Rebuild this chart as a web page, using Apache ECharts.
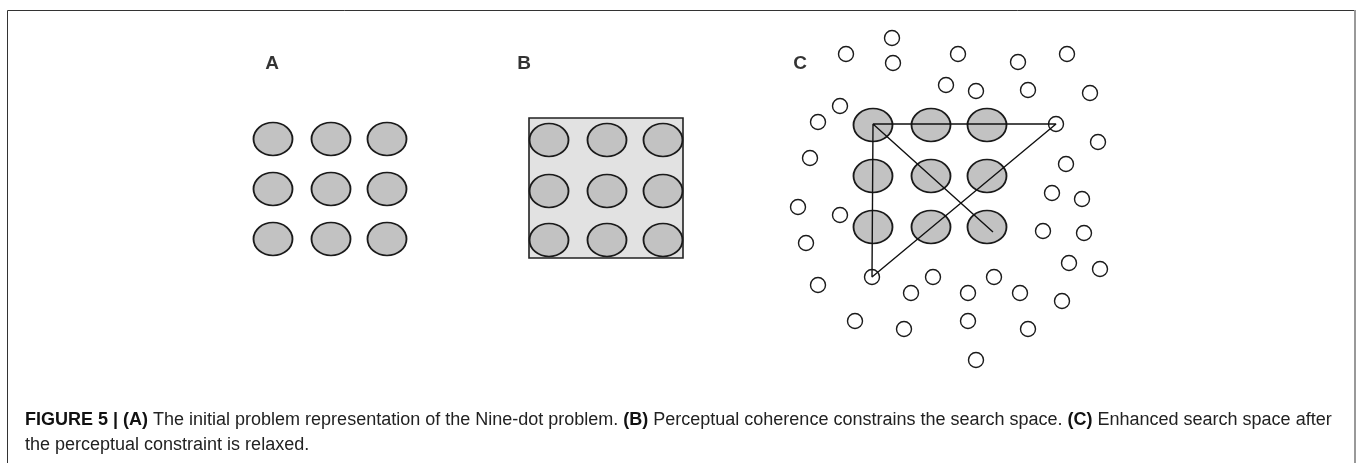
<!DOCTYPE html>
<html>
<head>
<meta charset="utf-8">
<script src="https://cdn.jsdelivr.net/npm/echarts@6/dist/echarts.min.js"></script>
<style>
  html, body { margin: 0; padding: 0; background: #fff; }
  #main { width: 1358px; height: 463px; }
</style>
</head>
<body>
<div id="main"></div>
<script>
// nine-dot grid centres for each panel (figure pixels)
const colsA = [273, 331, 387]
const rowsA = [139, 189, 239]
const colsB = [549, 607, 663]
const rowsB = [140, 191, 240]
const colsC = [873, 931, 987]
const rowsC = [125, 176, 227]

// panel B: perceptual box (two corners)
const boxB = [[529, 118], [683, 258]]

// panel C: extra points in the enlarged search space
const searchDots = [
  [892, 38], [846, 54], [893, 63], [958, 54], [1018, 62], [1067, 54],
  [946, 85], [976, 91], [1028, 90], [1090, 93], [840, 106], [818, 122],
  [1056, 124], [1098, 142], [810, 158], [1066, 164], [1052, 193], [1082, 199],
  [798, 207], [840, 215], [806, 243], [1043, 231], [1084, 233], [1069, 263],
  [1100, 269], [872, 277], [818, 285], [933, 277], [994, 277], [911, 293],
  [968, 293], [1020, 293], [1062, 301], [855, 321], [904, 329], [968, 321],
  [1028, 329], [976, 360]
]

// panel C: drawn path
const solutionPath = [[993, 232], [873, 124], [1056, 124], [872, 277], [873, 124]]

const panelNames = ['A', 'B', 'C']
const panelLabelPos = [[272, 64], [524, 64], [800, 64]]

const caption1 = '{b|FIGURE 5 | (A)} The initial problem representation of the Nine-dot problem. {b|(B)} Perceptual coherence constrains the search space. {b|(C)} Enhanced search space after'
const caption2 = 'the perceptual constraint is relaxed.'

function nineDots(cols, rows) {
  const out = []
  rows.forEach((y) => cols.forEach((x) => out.push([x, y])))
  return out
}

const ellipsePath = 'path://M0,10 A10,10 0 1,1 20,10 A10,10 0 1,1 0,10 Z'
const font = '"Liberation Sans", Arial, Helvetica, sans-serif'

const bigDot = {
  type: 'scatter',
  symbol: ellipsePath,
  symbolSize: [39, 33],
  itemStyle: { color: '#c2c2c2', borderColor: '#1a1a1a', borderWidth: 1.7, opacity: 1 },
  silent: true,
  z: 3
}

const option = {
  animation: false,
  backgroundColor: '#fff',
  grid: { left: 0, right: 0, top: 0, bottom: 0 },
  xAxis: { type: 'value', min: 0, max: 1358, show: false },
  yAxis: { type: 'value', min: 0, max: 463, inverse: true, show: false },
  series: [
    {
      type: 'custom',
      z: 1,
      silent: true,
      renderItem: function (params, api) {
        const p1 = api.coord([api.value(0), api.value(1)])
        const p2 = api.coord([api.value(2), api.value(3)])
        return {
          type: 'rect',
          shape: { x: p1[0], y: p1[1], width: p2[0] - p1[0], height: p2[1] - p1[1] },
          style: { fill: '#e2e2e2', stroke: '#222', lineWidth: 1.6 }
        }
      },
      data: [[boxB[0][0], boxB[0][1], boxB[1][0], boxB[1][1]]]
    },
    Object.assign({}, bigDot, { data: nineDots(colsA, rowsA) }),
    Object.assign({}, bigDot, { data: nineDots(colsB, rowsB) }),
    Object.assign({}, bigDot, { data: nineDots(colsC, rowsC) }),
    {
      type: 'scatter',
      symbol: 'circle',
      symbolSize: 15,
      itemStyle: { color: '#fff', borderColor: '#1a1a1a', borderWidth: 1.4, opacity: 1 },
      silent: true,
      z: 2,
      data: searchDots
    },
    {
      type: 'line',
      symbol: 'none',
      silent: true,
      z: 4,
      lineStyle: { color: '#111', width: 1.4 },
      data: solutionPath
    },
    {
      type: 'scatter',
      symbolSize: 1,
      silent: true,
      itemStyle: { color: 'rgba(0,0,0,0)' },
      label: {
        show: true,
        position: 'inside',
        formatter: (p) => panelNames[p.dataIndex],
        fontFamily: font,
        fontWeight: 'bold',
        fontSize: 19,
        color: '#000'
      },
      data: panelLabelPos
    }
  ],
  graphic: [
    {
      type: 'rect',
      silent: true,
      shape: { x: 7.5, y: 10.5, width: 1347, height: 480 },
      style: { fill: 'none', stroke: '#333', lineWidth: 1 }
    },
    {
      type: 'line',
      silent: true,
      shape: { x1: 1355, y1: 10, x2: 1355, y2: 463 },
      style: { stroke: '#999', lineWidth: 2 }
    },
    {
      type: 'text',
      silent: true,
      left: 25,
      top: 408,
      style: {
        text: caption1 + '\n' + caption2,
        font: '18px ' + font,
        fill: '#222',
        lineHeight: 25,
        rich: {
          b: { fontWeight: 'bold', fontSize: 18, fontFamily: font, fill: '#111', lineHeight: 25 }
        }
      }
    }
  ]
}

const chart = echarts.init(document.getElementById('main'))
chart.setOption(option)
</script>
</body>
</html>
